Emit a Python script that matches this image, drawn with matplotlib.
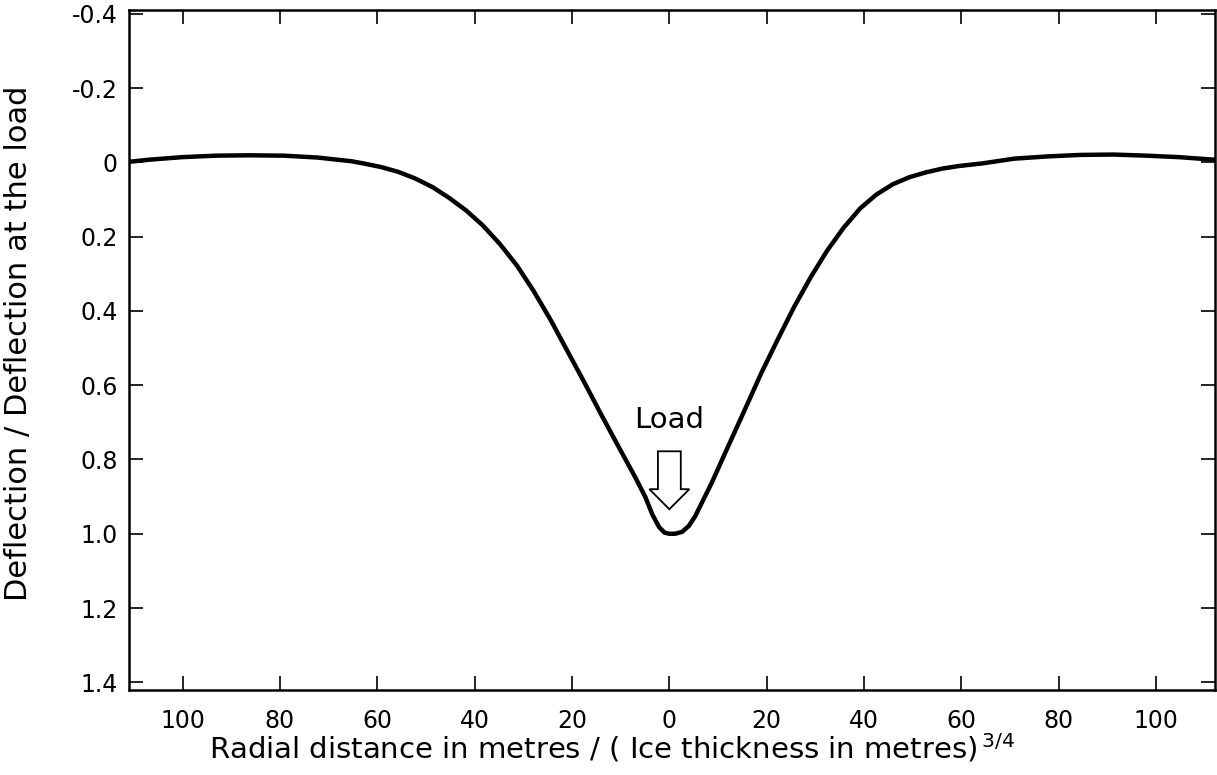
import matplotlib
matplotlib.use("Agg")
import matplotlib.pyplot as plt
from matplotlib.patches import FancyArrow

# deflection profile (positive = downward)
x_left = [-112, -107, -100.1, -93.1, -86.2, -79.2, -72.3, -65.3, -62.6, -59.1,
          -55.6, -52.1, -48.6, -45.2, -41.7, -38.3, -34.8, -31.3, -27.9, -24.4,
          -20.9, -17.4, -14.0, -10.5, -7.0, -4.9, -3.5, -2.1, -1.0, 0]
w_left = [0.0, -0.007, -0.014, -0.018, -0.019, -0.018, -0.013, -0.003, 0.0035, 0.013,
          0.026, 0.044, 0.067, 0.096, 0.130, 0.170, 0.220, 0.278, 0.346, 0.424,
          0.509, 0.594, 0.679, 0.764, 0.848, 0.902, 0.948, 0.982, 0.997, 1.0]
x_right = [0, 1.2, 2.6, 4.0, 5.3, 8.7, 12.1, 15.5, 18.9, 22.3, 25.6, 29.0, 32.4,
           35.8, 39.2, 42.5, 45.9, 49.3, 52.7, 56.0, 59.4, 62.8, 64.2, 70.9, 77.7,
           84.4, 91.2, 98.0, 104.7, 112]
w_right = [1.0, 1.0, 0.995, 0.979, 0.953, 0.863, 0.764, 0.666, 0.567, 0.476, 0.390,
           0.310, 0.238, 0.176, 0.124, 0.087, 0.059, 0.040, 0.027, 0.017, 0.010,
           0.005, 0.003, -0.010, -0.016, -0.020, -0.021, -0.018, -0.014, -0.007]

xticks = [-100, -80, -60, -40, -20, 0, 20, 40, 60, 80, 100]
xlabels = ["100", "80", "60", "40", "20", "0", "20", "40", "60", "80", "100"]
yticks = [-0.4, -0.2, 0, 0.2, 0.4, 0.6, 0.8, 1.0, 1.2, 1.4]
ylabels = ["-0.4", "-0.2", "0", "0.2", "0.4", "0.6", "0.8", "1.0", "1.2", "1.4"]

fig = plt.figure(figsize=(12.17, 7.75), dpi=100)
ax = fig.add_axes([0.106, 0.11, 0.892, 0.877])

ax.plot(x_left + x_right[1:], w_left + w_right[1:], color="black", lw=3.2,
        solid_capstyle="round", solid_joinstyle="round")

ax.set_xlim(-111, 112)
ax.set_ylim(1.42, -0.41)

ax.set_xticks(xticks)
ax.set_xticklabels(xlabels)
ax.set_yticks(yticks)
ax.set_yticklabels(ylabels)
ax.tick_params(direction="in", length=10, width=1.2, top=True, right=True,
               labelsize=17)
ax.tick_params(axis="x", pad=14)
ax.tick_params(axis="y", pad=8)
for s in ax.spines.values():
    s.set_linewidth(1.8)

ax.set_xlabel("Radial distance in metres / ( Ice thickness in metres)$^{\\,3/4}$",
              fontsize=21)
ax.xaxis.set_label_coords(0.445, -0.062)
ax.set_ylabel("Deflection / Deflection at the load", fontsize=22)
ax.yaxis.set_label_coords(-0.088, 0.51)

# load marker
ax.text(0, 0.695, "Load", ha="center", va="center", fontsize=21)
ax.add_patch(FancyArrow(0, 0.778, 0, 0.156, width=4.7, head_width=8.2,
                        head_length=0.054, length_includes_head=True,
                        fc="white", ec="black", lw=1.3))

fig.savefig("out.png", dpi=100)
